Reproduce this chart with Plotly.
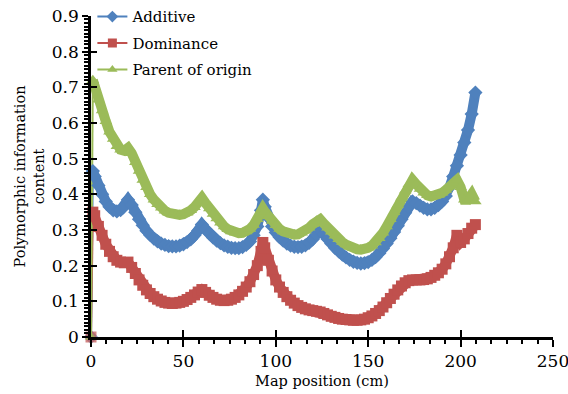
import plotly.graph_objects as go

map_position = [0, 1, 2, 4, 6, 8, 10, 12, 14, 16, 18, 20,
                22, 24, 26, 28, 30, 32, 34, 36, 38, 40, 42, 44, 46, 48, 50, 52, 54, 56, 58, 60,
                62, 64, 66, 68, 70, 72, 74, 76, 78, 80, 82, 84, 86, 88, 90, 92, 93, 94,
                96, 98, 100, 102, 104, 106, 108, 110, 112, 114, 116, 118, 120, 122, 124,
                126, 128, 130, 132, 134, 136, 138, 140, 142, 144, 146, 148, 150, 152, 154, 156, 158, 160,
                162, 164, 166, 168, 170, 172, 174,
                176, 178, 180, 182, 184, 186, 188, 190, 192, 194, 196, 198, 200, 202, 204, 206, 208]

additive = [0, 0.465, 0.45, 0.425, 0.40, 0.38, 0.365, 0.355, 0.352, 0.356, 0.366, 0.385,
            0.37, 0.35, 0.33, 0.313, 0.298, 0.286, 0.276, 0.268, 0.262, 0.258, 0.255, 0.254, 0.254, 0.256, 0.26, 0.266, 0.274, 0.285, 0.298, 0.315,
            0.302, 0.29, 0.279, 0.27, 0.263, 0.257, 0.253, 0.25, 0.249, 0.249, 0.252, 0.258, 0.268, 0.285, 0.31, 0.355, 0.385, 0.365,
            0.335, 0.31, 0.293, 0.28, 0.27, 0.262, 0.256, 0.253, 0.252, 0.253, 0.257, 0.264, 0.274, 0.287, 0.30,
            0.288, 0.275, 0.262, 0.25, 0.24, 0.231, 0.223, 0.216, 0.211, 0.208, 0.206, 0.207, 0.21, 0.216, 0.224, 0.235, 0.248, 0.262,
            0.277, 0.294, 0.312, 0.33, 0.348, 0.365, 0.38,
            0.375, 0.368, 0.362, 0.358, 0.358, 0.362, 0.37, 0.38, 0.395, 0.42, 0.45, 0.48, 0.51, 0.545, 0.58, 0.625, 0.685]

dominance = [0, 0.35, 0.34, 0.31, 0.285, 0.26, 0.24, 0.225, 0.215, 0.21, 0.208, 0.21,
             0.195, 0.178, 0.16, 0.145, 0.132, 0.122, 0.113, 0.106, 0.101, 0.097, 0.095, 0.094, 0.095, 0.097, 0.10, 0.105, 0.111, 0.118, 0.126, 0.133,
             0.125, 0.117, 0.111, 0.106, 0.103, 0.102, 0.103, 0.106, 0.111, 0.118, 0.128, 0.14, 0.155, 0.175, 0.20, 0.24, 0.265, 0.25,
             0.215, 0.185, 0.16, 0.14, 0.125, 0.113, 0.103, 0.095, 0.088, 0.083, 0.079, 0.076, 0.074, 0.072, 0.07,
             0.066, 0.062, 0.058, 0.055, 0.052, 0.05, 0.049, 0.048, 0.047, 0.047, 0.048, 0.05, 0.054, 0.059, 0.066, 0.074, 0.084, 0.096,
             0.108, 0.12, 0.132, 0.143, 0.152, 0.158, 0.16,
             0.16, 0.16, 0.161, 0.163, 0.167, 0.173, 0.18, 0.19, 0.205, 0.225, 0.25, 0.285, 0.265, 0.275, 0.29, 0.305, 0.315]

parent_of_origin = [0, 0.72, 0.70, 0.665, 0.635, 0.605, 0.575, 0.555, 0.535, 0.525, 0.522, 0.53,
                    0.515, 0.49, 0.465, 0.44, 0.42, 0.40, 0.385, 0.372, 0.362, 0.354, 0.348, 0.344, 0.342, 0.342, 0.344, 0.348, 0.355, 0.364, 0.376, 0.39,
                    0.375, 0.36, 0.345, 0.332, 0.32, 0.31, 0.302, 0.296, 0.292, 0.291, 0.292, 0.296, 0.303, 0.314, 0.33, 0.35, 0.36, 0.352,
                    0.338, 0.325, 0.313, 0.303, 0.296, 0.291, 0.288, 0.287, 0.288, 0.292, 0.298, 0.306, 0.316, 0.326, 0.33,
                    0.318, 0.306, 0.295, 0.284, 0.274, 0.266, 0.259, 0.253, 0.249, 0.246, 0.245, 0.246, 0.25, 0.256, 0.265, 0.277, 0.292, 0.31,
                    0.33, 0.35, 0.37, 0.39, 0.41, 0.428, 0.44,
                    0.428, 0.415, 0.404, 0.397, 0.394, 0.395, 0.398, 0.404, 0.412, 0.422, 0.432, 0.44, 0.42, 0.385, 0.385, 0.40, 0.38]

series_names = ["Additive", "Dominance", "Parent of origin"]
series_colors = ["#4F81BD", "#C0504D", "#9BBB59"]
series_symbols = ["diamond", "square", "triangle-up"]
series_values = [additive, dominance, parent_of_origin]

FONT = "DejaVu Serif"

H, W = 394, 568
TOP, BOTTOM, LEFT, RIGHT = 14, 57, 91, 15
y_domain_top = (H - BOTTOM - TOP) / (H - BOTTOM)

fig = go.Figure()
for name, vals, col, sym in zip(series_names, series_values, series_colors, series_symbols):
    fig.add_trace(go.Scatter(
        x=map_position[:2], y=vals[:2], mode="lines+markers", showlegend=False,
        line=dict(color=col, width=2),
        marker=dict(symbol=sym, size=[11, 0], color=col, line=dict(width=0)),
        cliponaxis=False, hoverinfo="skip",
    ))
for name, vals, col, sym in zip(series_names, series_values, series_colors, series_symbols):
    fig.add_trace(go.Scatter(
        x=map_position[1:], y=vals[1:], name=name, mode="lines+markers", showlegend=False,
        line=dict(color=col, width=10),
        marker=dict(symbol=sym, size=11, color=col, line=dict(width=0)),
        cliponaxis=False,
    ))
for name, col, sym in zip(series_names, series_colors, series_symbols):
    fig.add_trace(go.Scatter(
        x=[None], y=[None], name=name, mode="lines+markers", legendgroup=name,
        line=dict(color=col, width=2),
        marker=dict(symbol=sym, size=9, color=col, line=dict(width=0)),
    ))

fig.add_trace(go.Scatter(x=[0], y=[0], xaxis="x2", yaxis="y2", mode="markers",
                         marker=dict(opacity=0), showlegend=False, hoverinfo="skip"))

axis_common = dict(showgrid=False, zeroline=False, showline=True, linecolor="black",
                   linewidth=2.5, tickcolor="black", tickwidth=2, automargin=False,
                   ticklabeloverflow="allow",
                   tickfont=dict(family=FONT, size=17, color="black"))

fig.update_layout(
    width=W, height=H,
    margin=dict(l=LEFT, r=RIGHT, t=0, b=BOTTOM),
    paper_bgcolor="white", plot_bgcolor="white",
    font=dict(family=FONT, color="black"),
    showlegend=True,
    legend=dict(x=0.003, y=1.005, xanchor="left", yanchor="top",
                font=dict(family=FONT, size=15, color="black"),
                bgcolor="rgba(255,255,255,0)", itemwidth=30, tracegroupgap=4),
    xaxis=dict(range=[0, 250], tickmode="linear", tick0=0, dtick=50, ticks="outside", ticklen=7,
               minor=dict(dtick=50 / 6, tick0=0, ticks="outside", ticklen=4, tickwidth=2, tickcolor="black"),
               title=dict(text="Map position (cm)", font=dict(family=FONT, size=14.5, color="black"), standoff=6),
               **axis_common),
    yaxis=dict(range=[0, 0.9], domain=[0, y_domain_top], tickmode="linear", tick0=0, dtick=0.1, ticks="outside", ticklen=6,
               minor=dict(dtick=0.01, tick0=0, ticks="outside", ticklen=4, tickwidth=2, tickcolor="black"),
               title=dict(text="Polymorphic information<br>content", font=dict(family=FONT, size=14.5, color="black"), standoff=4),
               **axis_common),
    xaxis2=dict(range=[0, 250], overlaying="x", anchor="y2", side="bottom", tickmode="linear", tick0=0, dtick=50,
                ticks="inside", ticklen=7, tickwidth=2, tickcolor="black", showticklabels=False,
                showgrid=False, zeroline=False, showline=False),
    yaxis2=dict(range=[0, 0.9], domain=[0, y_domain_top], overlaying="y", anchor="x2", side="left", tickmode="linear", tick0=0, dtick=0.1,
                ticks="inside", ticklen=6, tickwidth=2, tickcolor="black", showticklabels=False,
                showgrid=False, zeroline=False, showline=False),
)

fig.write_html("out.html")
